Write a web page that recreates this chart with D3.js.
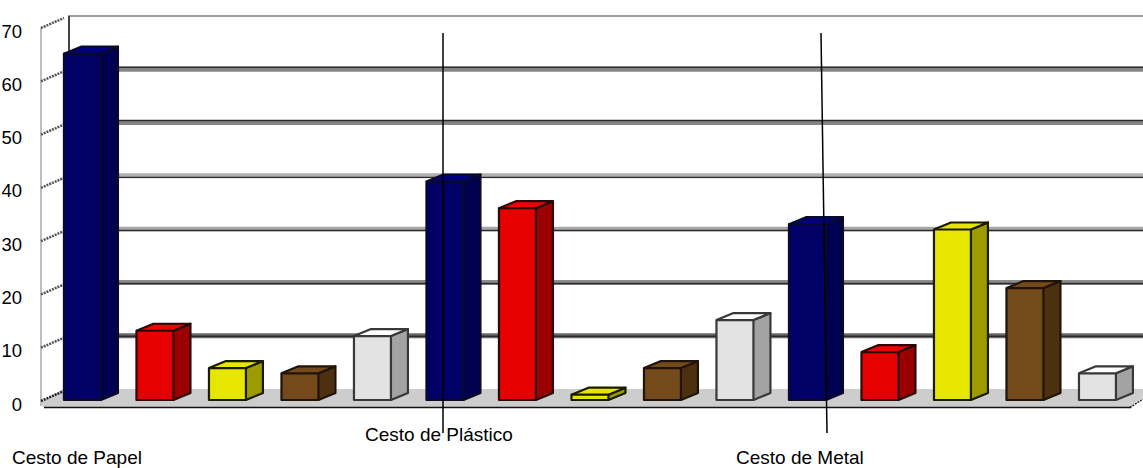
<!DOCTYPE html>
<html>
<head>
<meta charset="utf-8">
<script src="https://cdn.jsdelivr.net/npm/d3@7"></script>
<style>
html,body{margin:0;padding:0;background:#fff;overflow:hidden;}
svg{display:block;}
text{font-family:"Liberation Sans",Arial,sans-serif;fill:#000;}
</style>
</head>
<body>
<svg id="chart" width="1143" height="468"></svg>
<script>
// Waste sorted into three baskets; each basket holds five material bars.
const binLabels = ["Cesto de Papel", "Cesto de Plástico", "Cesto de Metal"];
const materials = ["Papel", "Plástico", "Metal", "Orgânico", "Vidro"];
const paperBin = [65, 13, 6, 5, 12];
const plasticBin = [41, 36, 1, 6, 15];
const metalBin = [33, 9, 32, 21, 5];
const yTicks = [0, 10, 20, 30, 40, 50, 60, 70];

const faceColors = ["#000066", "#e60000", "#e6e600", "#744a1a", "#e3e3e3"];
const sideColors = ["#000050", "#9a0000", "#9c9c00", "#4d3010", "#a3a3a3"];
const topColors = ["#00007e", "#f00000", "#e6e600", "#744a1a", "#ffffff"];
const outlineColors = ["#0a0a28", "#2a0808", "#1a1a00", "#20140a", "#383838"];

const svg = d3.select("#chart");
const depth = { bar: [17, -7], wall: [27, -12] };

const bars = [paperBin, plasticBin, metalBin].flatMap((vals, b) =>
  vals.map((v, m) => ({ bin: b, material: m, value: v })));

const x = d3.scaleBand().domain(d3.range(bars.length))
  .range([46.2, 1133.7]).paddingInner(0.49).paddingOuter(0.245);
// The side wall sits at the front of the floor; bars stand a little behind it.
const y = d3.scaleLinear().domain([0, 70]).range([401, 28]);
const yBar = d3.scaleLinear().domain([0, 70]).range([400, 27]);

// Side wall, back wall edges and floor
const wallX = 41;
const wall = svg.append("g");
wall.append("path")
  .attr("d", d3.line()([[wallX + depth.wall[0], y(70) + depth.wall[1]], [1143, y(70) + depth.wall[1]]]))
  .attr("fill", "none").attr("stroke", "#7c7c7c").attr("stroke-width", 1.5);
wall.append("path")
  .attr("d", d3.line()([[wallX, y(70)], [wallX, 406]]))
  .attr("fill", "none").attr("stroke", "#a8a8a8").attr("stroke-width", 1.5);
wall.append("line")
  .attr("x1", wallX + depth.wall[0] + 1).attr("x2", wallX + depth.wall[0] + 1)
  .attr("y1", y(70) + depth.wall[1]).attr("y2", y(65))
  .attr("stroke", "#444").attr("stroke-width", 2);
wall.append("path")
  .attr("d", d3.line()([[wallX, 402], [wallX + 22, 389], [1143, 389], [1143, 397], [1130, 407], [wallX + 2, 407]]))
  .attr("fill", "#cdcdcd");
wall.append("line")
  .attr("x1", wallX + 3).attr("x2", 1131).attr("y1", 407.5).attr("y2", 407.5)
  .attr("stroke", "#111").attr("stroke-width", 1.5);
wall.append("line")
  .attr("x1", 1130).attr("x2", 1143).attr("y1", 407.5).attr("y2", 399)
  .attr("stroke", "#222").attr("stroke-width", 1.5).attr("stroke-dasharray", "2 1");

// Gridlines: a grey band with darker edges that vary with height
const gridBand = { 60: "#858585", 50: "#858585", 40: "#b0b0b0", 30: "#a8a8a8", 20: "#8c8c8c", 10: "#6a6a6a" };
const gridEdges = { 60: [-2], 50: [-2], 40: [1.5], 30: [1.2], 20: [1], 10: [0.5] };
const gridG = svg.append("g");
yTicks.filter(t => t > 0 && t < 70).forEach(t => {
  const gy = y(t) + depth.wall[1];
  gridG.append("line").attr("x1", 64).attr("x2", 1143).attr("y1", gy).attr("y2", gy)
    .attr("stroke", gridBand[t]).attr("stroke-width", 5);
  gridEdges[t].forEach(off => {
    gridG.append("line").attr("x1", 64).attr("x2", 1143).attr("y1", gy + off).attr("y2", gy + off)
      .attr("stroke", "#2c2c2c").attr("stroke-width", 1.4);
  });
});
yTicks.forEach(t => {
  gridG.append("line")
    .attr("x1", wallX).attr("y1", y(t))
    .attr("x2", wallX + depth.wall[0] - 4).attr("y2", y(t) + depth.wall[1] + 2)
    .attr("stroke", t === 0 ? "#222" : "#555").attr("stroke-width", 2.5).attr("stroke-dasharray", "2 1");
});

// Value labels beside the side wall
const axis = svg.append("g");
axis.selectAll("text").data(yTicks).join("text")
  .attr("x", 22).attr("y", d => y(d) + 9.5)
  .attr("text-anchor", "end").attr("font-size", 18.5).text(d => d);

// Extruded bars: side and top faces first, then the front face
const barG = svg.append("g").selectAll("g").data(bars).join("g")
  .attr("stroke-linejoin", "round");
const [dx, dy] = depth.bar;
const baseline = yBar(0);
barG.append("path").attr("class", "side")
  .attr("d", d => {
    const r = x(bars.indexOf(d)) + x.bandwidth(), t = yBar(d.value);
    return d3.line()([[r, t], [r + dx, t + dy], [r + dx, baseline + dy], [r, baseline]]);
  })
  .attr("fill", d => sideColors[d.material])
  .attr("stroke", d => outlineColors[d.material]).attr("stroke-width", 2.2);
barG.append("path").attr("class", "top")
  .attr("d", d => {
    const l = x(bars.indexOf(d)), r = l + x.bandwidth(), t = yBar(d.value);
    return d3.line()([[l, t], [l + dx, t + dy], [r + dx, t + dy], [r, t]]);
  })
  .attr("fill", d => topColors[d.material])
  .attr("stroke", d => outlineColors[d.material]).attr("stroke-width", 2.2);
barG.append("rect").attr("class", "front")
  .attr("x", d => x(bars.indexOf(d))).attr("width", x.bandwidth())
  .attr("y", d => yBar(d.value)).attr("height", d => baseline - yBar(d.value))
  .attr("fill", d => faceColors[d.material])
  .attr("stroke", d => outlineColors[d.material]).attr("stroke-width", 2.2);

// Hand-drawn separators between baskets
const separators = [[[443, 33], [443, 433]], [[821, 33], [827, 433]]];
svg.append("g").selectAll("line").data(separators).join("line")
  .attr("x1", d => d[0][0]).attr("y1", d => d[0][1])
  .attr("x2", d => d[1][0]).attr("y2", d => d[1][1])
  .attr("stroke", "#000").attr("stroke-width", 1.5);

// Basket captions at their staggered positions
const captionAnchors = [[12, 463.5], [365, 441], [736, 463.5]];
svg.append("g").selectAll("text").data(binLabels).join("text")
  .attr("x", (d, i) => captionAnchors[i][0]).attr("y", (d, i) => captionAnchors[i][1])
  .attr("font-size", 19).text(d => d);
</script>
</body>
</html>
